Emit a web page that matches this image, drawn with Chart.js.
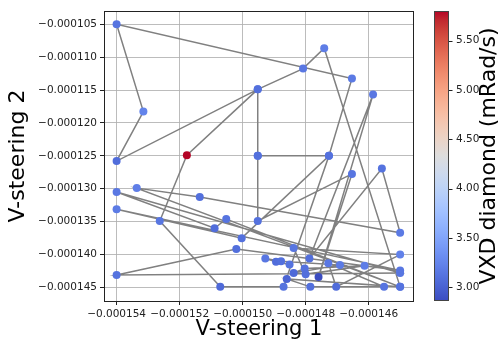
<!DOCTYPE html>
<html>
<head>
<meta charset="utf-8">
<script src="https://cdn.jsdelivr.net/npm/chart.js@4"></script>
<style>
  html, body { margin: 0; padding: 0; background: #fff; }
  canvas { display: block; }
</style>
</head>
<body>
<canvas id="chart" width="502" height="342"></canvas>
<script>
// measurement sequence, in the order it was taken
const steer1 = [
  -0.00014851, -0.00014894, -0.00014928, -0.00014878, -0.00014691, -0.00014838, -0.00014803, -0.00014613,
  -0.00014800, -0.00014838, -0.00014500, -0.00014703, -0.00014728, -0.00014551, -0.00014785, -0.00014860,
  -0.00014500, -0.00014741, -0.00014808, -0.00014952, -0.00015400, -0.00015315, -0.00015400, -0.00014653,
  -0.00014726, -0.00014952, -0.00014952, -0.00015177, -0.00015263, -0.00015071, -0.00014870, -0.00014726,
  -0.00015003, -0.00015400, -0.00014500, -0.00015020, -0.00015400, -0.00014500, -0.00015400, -0.00015089,
  -0.00015052, -0.00014500, -0.00015336, -0.00015136, -0.00014500, -0.00014558, -0.00014788, -0.00014586,
  -0.00014759, -0.00014653, -0.00014952, -0.00014952
];
const steer2 = [
  -0.0001415, -0.0001411, -0.0001406, -0.0001410, -0.0001416, -0.0001428, -0.0001421, -0.0001417,
  -0.0001430, -0.0001390, -0.0001400, -0.0001449, -0.0001413, -0.0001449, -0.0001449, -0.0001437,
  -0.0001449, -0.00010865, -0.00011175, -0.0001149, -0.0001258, -0.00011828, -0.0001050, -0.00011327,
  -0.0001250, -0.0001250, -0.0001149, -0.0001249, -0.0001349, -0.0001449, -0.0001449, -0.0001250,
  -0.0001375, -0.0001331, -0.0001424, -0.00013915, -0.0001431, -0.0001428, -0.0001305, -0.0001360,
  -0.0001346, -0.0001449, -0.0001299, -0.00013125, -0.0001367, -0.00012694, -0.0001406, -0.0001157,
  -0.0001434, -0.00012775, -0.0001349, -0.0001250
];
const vxd = [
  3.12, 3.08, 3.15, 3.10, 3.18, 3.05, 3.11, 3.20,
  3.09, 3.14, 3.22, 3.07, 3.16, 3.13, 3.10, 3.02,
  3.12, 3.19, 3.15, 3.10, 3.08, 3.24, 3.13, 3.17,
  3.11, 3.09, 3.10, 5.80, 3.14, 3.06, 3.12, 3.11,
  3.10, 3.18, 3.15, 3.09, 3.12, 3.14, 3.16, 3.08,
  3.13, 3.12, 3.20, 3.10, 3.17, 3.12, 3.09, 3.15,
  2.86, 3.14, 3.11, 3.10
];
const xTicks = [-0.000154, -0.000152, -0.000150, -0.000148, -0.000146];
const yTicks = [-0.000145, -0.000140, -0.000135, -0.000130, -0.000125, -0.000120, -0.000115, -0.000110, -0.000105];
const cbTicks = [3.0, 3.5, 4.0, 4.5, 5.0, 5.5];
const cbMin = 2.86, cbMax = 5.80;

// matplotlib coolwarm
const coolwarm = [
  [59,76,192],[68,90,204],[77,104,215],[87,117,225],[98,130,234],[108,142,241],[119,154,247],[130,165,251],
  [141,176,254],[152,185,255],[163,194,255],[174,201,253],[184,208,249],[194,213,244],[204,217,238],[213,219,230],
  [221,221,221],[229,216,209],[236,211,197],[241,204,185],[245,196,173],[247,187,160],[247,177,148],[247,166,135],
  [244,154,123],[241,141,111],[236,127,99],[229,112,88],[222,96,77],[213,80,66],[203,62,56],[192,40,47],[180,4,38]
];
function cmap(v) {
  let t = Math.min(1, Math.max(0, (v - cbMin) / (cbMax - cbMin))) * (coolwarm.length - 1);
  const i = Math.min(coolwarm.length - 2, Math.floor(t));
  const f = t - i;
  const c = coolwarm[i].map((a, k) => Math.round(a + (coolwarm[i + 1][k] - a) * f));
  return `rgb(${c[0]},${c[1]},${c[2]})`;
}

const fmt = v => '\u2212' + Math.abs(v).toFixed(6);
const tickFont = { family: '"DejaVu Sans", sans-serif', size: 10.5 };
const gridOpts = { color: 'rgba(176,176,176,0.85)', lineWidth: 1, tickLength: 4, tickColor: '#222' };

const extras = {
  id: 'extras',
  afterDraw(chart) {
    const { ctx, chartArea: a } = chart;
    const cb = chart.scales.cb;
    ctx.save();
    ctx.strokeStyle = '#222';
    ctx.lineWidth = 1;
    ctx.strokeRect(a.left + 0.5, a.top + 0.5, a.right - a.left - 1, a.bottom - a.top);

    // colour bar
    const x0 = a.right + 20, w = 15;
    const top = cb.getPixelForValue(cbMax), bot = cb.getPixelForValue(cbMin);
    const g = ctx.createLinearGradient(0, bot, 0, top);
    coolwarm.forEach((c, i) => g.addColorStop(i / (coolwarm.length - 1), `rgb(${c[0]},${c[1]},${c[2]})`));
    ctx.fillStyle = g;
    ctx.fillRect(x0, top, w, bot - top);
    ctx.strokeStyle = '#444';
    ctx.strokeRect(x0 + 0.5, top + 0.5, w - 1, bot - top - 1);
    ctx.strokeStyle = '#222';
    cbTicks.forEach(v => {
      const y = Math.round(cb.getPixelForValue(v)) + 0.5;
      ctx.beginPath();
      ctx.moveTo(x0 + w, y);
      ctx.lineTo(x0 + w + 3.5, y);
      ctx.stroke();
    });

    ctx.translate(489, (top + bot) / 2);
    ctx.rotate(-Math.PI / 2);
    ctx.font = '22px "DejaVu Sans", sans-serif';
    ctx.fillStyle = '#000';
    ctx.textAlign = 'center';
    ctx.textBaseline = 'middle';
    ctx.fillText('VXD diamond (mRad/s)', 0, 0);
    ctx.restore();
  }
};

Chart.defaults.font.family = '"DejaVu Sans", sans-serif';
Chart.defaults.color = '#222';

new Chart(document.getElementById('chart'), {
  type: 'scatter',
  data: {
    datasets: [{
      data: steer1.map((x, i) => ({ x, y: steer2[i] })),
      showLine: true,
      borderColor: '#808080',
      borderWidth: 1.5,
      pointRadius: 4,
      pointHoverRadius: 4,
      pointBorderWidth: 0,
      pointBackgroundColor: vxd.map(cmap)
    }]
  },
  options: {
    responsive: false,
    animation: false,
    layout: { padding: { top: 11, left: 0, right: 0, bottom: 0 } },
    plugins: { legend: { display: false }, tooltip: { enabled: false } },
    scales: {
      x: {
        type: 'linear',
        position: 'bottom',
        min: -0.0001544,
        max: -0.00014456,
        afterBuildTicks: s => { s.ticks = xTicks.map(v => ({ value: v })); },
        afterFit: s => { s.height = 41; },
        grid: gridOpts,
        border: { display: false },
        ticks: { font: tickFont, padding: 3, maxRotation: 0, autoSkip: false, callback: fmt },
        title: { display: true, text: 'V-steering 1', color: '#000', font: { size: 21 }, padding: { top: 0, bottom: 0 } }
      },
      y: {
        type: 'linear',
        position: 'left',
        min: -0.00014705,
        max: -0.000103,
        afterBuildTicks: s => { s.ticks = yTicks.map(v => ({ value: v })); },
        afterFit: s => { s.width = 104; },
        grid: gridOpts,
        border: { display: false },
        ticks: { font: tickFont, padding: 3, autoSkip: false, callback: fmt },
        title: { display: true, text: 'V-steering 2', color: '#000', font: { size: 22 }, padding: { top: 5, bottom: 0 } }
      },
      cb: {
        type: 'linear',
        position: 'right',
        min: cbMin,
        max: cbMax,
        afterBuildTicks: s => { s.ticks = cbTicks.map(v => ({ value: v })); },
        afterFit: s => { s.width = 88; },
        grid: { display: false, drawTicks: true, tickLength: 39 },
        border: { display: false },
        ticks: { font: tickFont, padding: 3, autoSkip: false, callback: v => v.toFixed(2) }
      }
    }
  },
  plugins: [extras]
});
</script>
</body>
</html>
